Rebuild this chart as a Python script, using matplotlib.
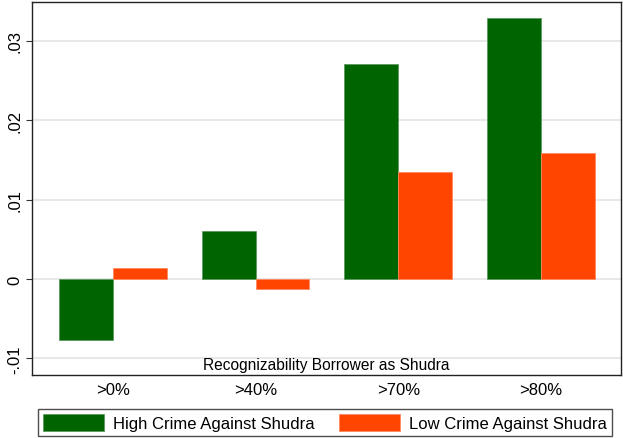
import matplotlib
matplotlib.use("Agg")
import matplotlib.pyplot as plt
import numpy as np

plt.rcParams['font.family'] = ['Liberation Sans', 'DejaVu Sans']

categories = [">0%", ">40%", ">70%", ">80%"]
high_crime = [-0.0077, 0.0061, 0.0271, 0.0329]
low_crime = [0.0014, -0.0013, 0.0135, 0.0159]
series_labels = ["High Crime Against Shudra", "Low Crime Against Shudra"]
yticks = [-0.01, 0.0, 0.01, 0.02, 0.03]
ytick_labels = ["-.01", "0", ".01", ".02", ".03"]

green = "#006400"
orange = "#FF4500"

W, H = 623, 439
fig = plt.figure(figsize=(W / 100, H / 100), dpi=100)
ax = fig.add_axes([32 / W, 1 - 376 / H, (621 - 32) / W, (376 - 3) / H])

x = np.arange(len(categories))
bw = 0.377
b1 = ax.bar(x - bw / 2, high_crime, width=bw, color=green, edgecolor="#5e9a5e", linewidth=0.6, zorder=3)
b2 = ax.bar(x + bw / 2, low_crime, width=bw, color=orange, edgecolor="#ff8a5e", linewidth=0.6, zorder=3)

ax.set_xlim(-0.566, 3.56)
ax.set_ylim(-0.0121, 0.0349)
ax.set_yticks(yticks)
ax.set_yticklabels(ytick_labels, rotation=90, va="center", fontsize=12)
ax.set_xticks(x)
ax.set_xticklabels(categories, fontsize=12)
ax.tick_params(axis="x", length=0, pad=5)
ax.tick_params(axis="y", length=4, width=0.8, color="#333333", pad=3)
ax.grid(axis="y", color="#e4e4e4", linewidth=1.2, zorder=0)
for s in ax.spines.values():
    s.set_linewidth(1.0)
    s.set_color("#222222")

ax.text(0.5, 0.008, "Recognizability Borrower as Shudra", transform=ax.transAxes,
        ha="center", va="bottom", fontsize=11.2)

leg = fig.legend([b1, b2], series_labels, loc="lower left", ncol=2,
                 bbox_to_anchor=(38 / W, 1 - 437 / H, (612 - 38) / W, 31 / H),
                 mode="expand", frameon=True, fancybox=False, fontsize=12,
                 handlelength=3.65, handleheight=1.2, handletextpad=0.55,
                 borderaxespad=0.0, borderpad=0.3, columnspacing=1.5)
leg.get_frame().set_edgecolor("#222222")
leg.get_frame().set_linewidth(1.0)

fig.savefig("out.png", dpi=100)
